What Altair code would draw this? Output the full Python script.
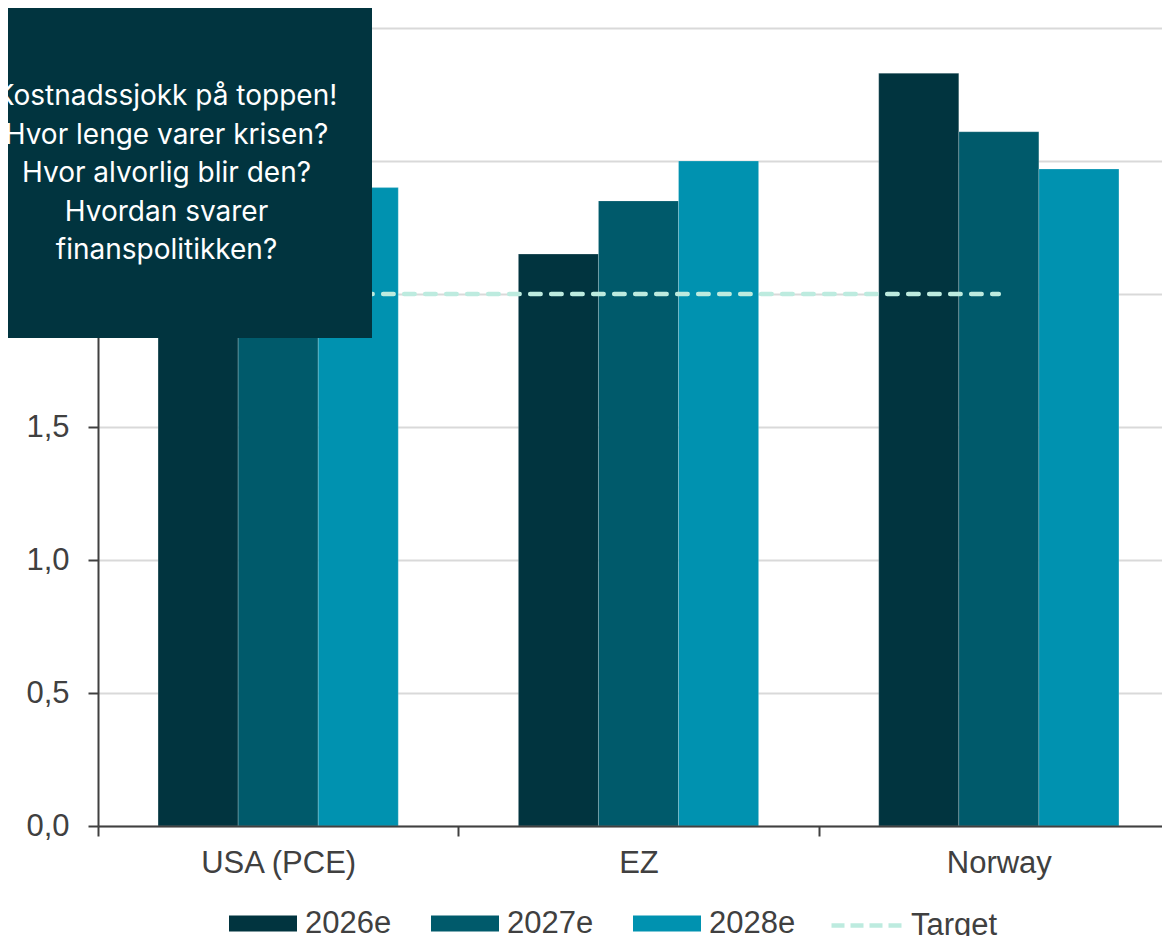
import altair as alt
import pandas as pd

categories = ["USA (PCE)", "EZ", "Norway"]
series = ["2026e", "2027e", "2028e"]
values_2026 = [2.60, 2.15, 2.83]
values_2027 = [2.50, 2.35, 2.61]
values_2028 = [2.40, 2.50, 2.47]
target_values = [2.0, 2.0, 2.0]
y_ticks = [0.0, 0.5, 1.0, 1.5, 2.0, 2.5, 3.0]
bar_colors = ["#01343f", "#005a6b", "#0092b0"]
target_color = "#bdebdf"
box_lines = [
    "Kostnadssjokk på toppen!",
    "Hvor lenge varer krisen?",
    "Hvor alvorlig blir den?",
    "Hvordan svarer",
    "finanspolitikken?",
]

rows = []
for s, vals in zip(series, [values_2026, values_2027, values_2028]):
    for c, v in zip(categories, vals):
        rows.append({"cat": c, "series": s, "value": v})
df = pd.DataFrame(rows)
df_target = pd.DataFrame({"cat": categories, "value": target_values, "name": ["Target"] * 3})

FONT = "Liberation Sans"
TXT = "#404040"

x_enc = alt.X(
    "cat:N",
    sort=categories,
    scale=alt.Scale(range=[0, 1081], paddingInner=0, paddingOuter=0),
    axis=alt.Axis(
        title=None,
        tickBand="extent",
        labelFont=FONT,
        labelFontSize=31,
        labelColor=TXT,
        labelPadding=12,
        labelAngle=0,
        tickSize=10,
        tickWidth=2,
        tickColor=TXT,
        domainColor=TXT,
        domainWidth=2,
        grid=False,
        zindex=1,
    ),
)

y_enc = alt.Y(
    "value:Q",
    scale=alt.Scale(domain=[0, 3], nice=False),
    axis=alt.Axis(
        title=None,
        values=y_ticks,
        labelExpr="replace(format(datum.value, '.1f'), '.', ',')",
        labelFont=FONT,
        labelFontSize=31,
        labelColor=TXT,
        labelPadding=19,
        tickSize=10,
        tickWidth=2,
        tickColor=TXT,
        domainColor=TXT,
        domainWidth=2,
        gridColor="#d9d9d9",
        gridWidth=2,
        zindex=0,
    ),
)

bars = alt.Chart(df).mark_bar(stroke="#ffffff", strokeWidth=0.7, strokeOpacity=0.3).encode(
    x=x_enc,
    xOffset=alt.XOffset(
        "series:N", sort=series, scale=alt.Scale(paddingInner=0, paddingOuter=0.75)
    ),
    y=y_enc,
    color=alt.Color(
        "series:N",
        sort=series,
        scale=alt.Scale(domain=series, range=bar_colors),
        legend=alt.Legend(
            title=None,
            orient="none",
            direction="horizontal",
            legendX=131,
            legendY=861.5,
            symbolType="M-1,-0.235L1,-0.235L1,0.235L-1,0.235Z",
            symbolSize=4624,
            symbolStrokeWidth=0,
            symbolOpacity=1,
            labelFont=FONT,
            labelFontSize=31,
            labelColor=TXT,
            labelOffset=8,
            labelLimit=300,
            columnPadding=39,
            padding=0,
        ),
    ),
)

target_line = alt.Chart(df_target).mark_line(
    strokeWidth=4.5, strokeDash=[10.5, 10.5], strokeCap="round"
).encode(
    x=alt.X("cat:N", sort=categories),
    y=alt.Y("value:Q"),
    stroke=alt.Stroke(
        "name:N",
        scale=alt.Scale(domain=["Target"], range=[target_color]),
        legend=alt.Legend(
            title=None,
            orient="none",
            legendX=731,
            legendY=858.5,
            symbolType="stroke",
            symbolSize=5329,
            symbolStrokeWidth=4.5,
            symbolDash=[13, 6],
            labelFont=FONT,
            labelFontSize=31,
            labelColor=TXT,
            labelOffset=4,
            labelLimit=300,
            padding=0,
        ),
    ),
)

box_df = pd.DataFrame({"k": [0]})
box = alt.Chart(box_df).mark_rect(color="#01343f").encode(
    x=alt.value(-90), x2=alt.value(274), y=alt.value(-20), y2=alt.value(310)
)
box_text = alt.Chart(box_df).mark_text(
    text=box_lines,
    align="center",
    baseline="top",
    font="Inter",
    fontSize=28,
    lineHeight=38.5,
    color="#ffffff",
).encode(x=alt.value(68.5), y=alt.value(55))

chart = (
    alt.layer(bars, target_line, box, box_text)
    .properties(
        width=1064,
        height=798,
        padding={"left": 90, "top": 20, "right": 0, "bottom": 110},
        autosize=alt.AutoSizeParams(type="none"),
    )
    .configure_view(stroke=None)
)

chart.save("out.html", embed_options={"renderer": "svg", "actions": False})
